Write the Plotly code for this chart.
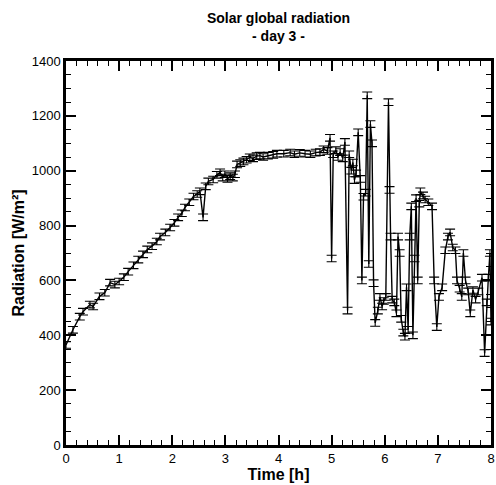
import plotly.graph_objects as go

# Time [h] and radiation [W/m²]
time_h = [
    0.00, 0.13, 0.26, 0.32, 0.45, 0.51, 0.63, 0.73, 0.83, 0.92,
    1.00, 1.09, 1.17, 1.27, 1.36, 1.45, 1.53, 1.62, 1.71, 1.77,
    1.87, 1.96, 2.04, 2.11, 2.18, 2.24, 2.32, 2.40, 2.47, 2.52,
    2.58, 2.63, 2.68, 2.77, 2.84, 2.90, 2.95, 2.99, 3.04, 3.09,
    3.14, 3.18, 3.22, 3.28, 3.34, 3.40, 3.46, 3.52, 3.59, 3.65,
    3.71, 3.80, 3.90, 3.97, 4.10, 4.22, 4.30, 4.40, 4.50, 4.60,
    4.70, 4.78, 4.85, 4.92, 4.97, 5.00, 5.03, 5.08, 5.12, 5.16,
    5.21, 5.25, 5.30, 5.33, 5.37, 5.40, 5.43, 5.46, 5.50, 5.54,
    5.57, 5.60, 5.64, 5.67, 5.70, 5.73, 5.76, 5.79, 5.82, 5.87,
    5.91, 5.95, 5.98, 6.02, 6.07, 6.09, 6.11, 6.14, 6.18, 6.22,
    6.25, 6.28, 6.31, 6.35, 6.38, 6.41, 6.44, 6.47, 6.50, 6.53,
    6.56, 6.59, 6.62, 6.65, 6.67, 6.72, 6.76, 6.82, 6.89, 6.93,
    6.98, 7.02, 7.08, 7.14, 7.19, 7.23, 7.28, 7.33, 7.36, 7.41,
    7.45, 7.48, 7.52, 7.57, 7.61, 7.66, 7.71, 7.76, 7.83, 7.88,
    7.92, 7.95, 7.98, 8.00,
]
radiation = [
    365, 420, 468, 486, 512, 505, 542, 555, 592, 585,
    596, 612, 632, 655, 676, 695, 713, 725, 742, 760,
    775, 793, 810, 830, 845, 866, 885, 906, 915, 925,
    830, 943, 961, 968, 985, 994, 975, 987, 970, 980,
    975, 987, 1023, 1028, 1034, 1040, 1049, 1045, 1053, 1055,
    1050, 1055, 1058, 1062, 1062, 1066, 1060, 1065, 1062, 1060,
    1066, 1068, 1078, 1072, 1120, 680, 1060, 1075, 1050, 1068,
    1045, 1105, 490, 1060, 1000, 1030, 966, 990, 1140, 970,
    600, 905, 920, 1275, 660, 1170, 1100, 590, 445, 490,
    540, 505, 525, 540, 1250, 930, 760, 530, 520, 480,
    760, 700, 460, 410, 395, 575, 420, 760, 870, 400,
    680, 900, 600, 880, 925, 910, 895, 885, 870, 600,
    430, 540, 575, 710, 760, 775, 720, 710, 600, 570,
    540, 700, 600, 560, 480, 565, 530, 560, 610, 335,
    520, 610, 700, 450,
]
error = [12] * len(radiation)

x_ticks = [0, 1, 2, 3, 4, 5, 6, 7, 8]
y_ticks = [0, 200, 400, 600, 800, 1000, 1200, 1400]

FONT = "Liberation Sans, Arial, sans-serif"

fig = go.Figure()
fig.add_trace(go.Scatter(
    x=time_h, y=radiation, mode="lines",
    line=dict(color="black", width=1.4),
    error_y=dict(type="data", array=error, visible=True,
                 color="black", thickness=1.1, width=5),
    showlegend=False, hoverinfo="skip",
))

axis_common = dict(
    showgrid=False, zeroline=False, automargin=False,
    showline=True, linecolor="black", linewidth=2.5, mirror="allticks",
    ticks="inside", ticklen=10, tickwidth=2, tickcolor="black",
    tickfont=dict(family=FONT, size=13, color="black"),
)

fig.update_xaxes(
    range=[0, 8], tickvals=x_ticks, ticktext=[str(v) for v in x_ticks],
    title=dict(text="<b>Time [h]</b>", font=dict(family=FONT, size=16, color="black"), standoff=0),
    minor=dict(dtick=0.2, ticks="inside", ticklen=5, tickwidth=1, tickcolor="black"),
    **axis_common,
)
fig.update_yaxes(
    range=[0, 1400], tickvals=y_ticks, ticktext=[str(v) for v in y_ticks],
    title=dict(text="<b>Radiation [W/m²]</b>", font=dict(family=FONT, size=16, color="black"), standoff=4),
    minor=dict(dtick=50, ticks="inside", ticklen=5, tickwidth=1, tickcolor="black"),
    **axis_common,
)

fig.update_layout(
    width=496, height=485,
    margin=dict(l=66, r=5, t=61, b=40),
    paper_bgcolor="white", plot_bgcolor="white",
    title=dict(text="<b>Solar global radiation<br>- day 3 -</b>",
               x=0.5615, xanchor="center", y=0.952, yanchor="top",
               font=dict(family=FONT, size=14, color="black")),
)

fig.write_html("out.html", config={"displayModeBar": False},
               post_script="document.body.style.margin='0';document.body.style.overflow='hidden';")
